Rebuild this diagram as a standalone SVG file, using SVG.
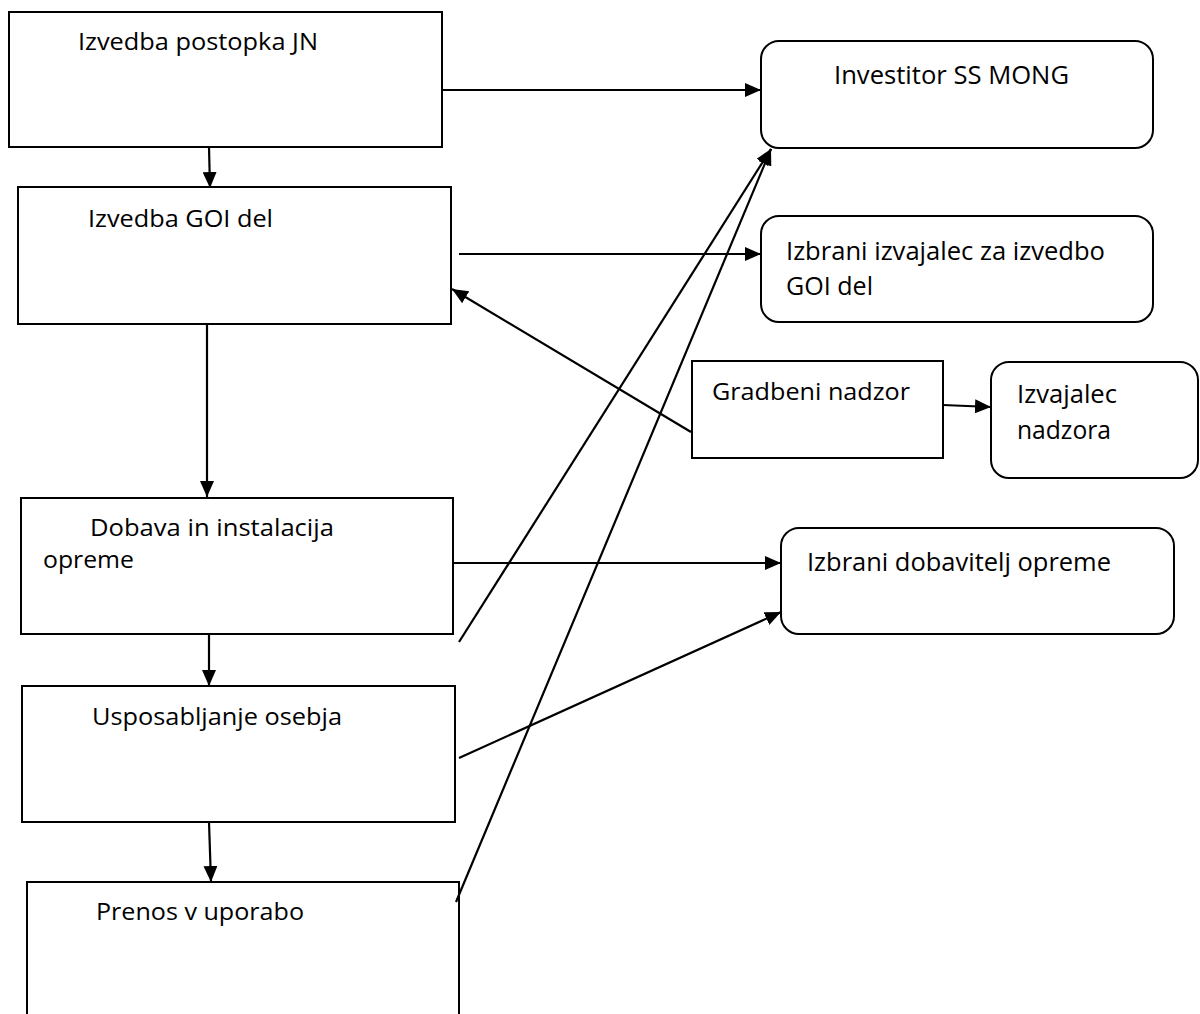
<svg xmlns="http://www.w3.org/2000/svg" width="1200" height="1014" viewBox="0 0 1200 1014">
<defs>
<marker id="ah" markerUnits="userSpaceOnUse" markerWidth="17" markerHeight="14" refX="16" refY="7" orient="auto">
<path d="M0,0 L16,7 L0,14 z" fill="#000"/>
</marker>
<style>
.box{fill:#fff;stroke:#000;stroke-width:2}
.lt{font-family:"Open Sans","DejaVu Sans",sans-serif;font-size:23.5px;fill:#000}
.rt{font-family:"Open Sans","DejaVu Sans",sans-serif;font-size:26px;fill:#000}
.cn line{stroke:#000;stroke-width:2.2;marker-end:url(#ah)}
</style>
</defs>
<rect width="1200" height="1014" fill="#fff"/>
<g id="n1"><rect class="box" x="9" y="12" width="433" height="135"/><text class="lt" x="78" y="50" textLength="240" lengthAdjust="spacingAndGlyphs">Izvedba postopka JN</text></g>
<g id="n2"><rect class="box" x="18" y="187" width="433" height="137"/><text class="lt" x="88" y="227" textLength="185" lengthAdjust="spacingAndGlyphs">Izvedba GOI del</text></g>
<g id="n3"><rect class="box" x="21" y="498" width="432" height="136"/><text class="lt" x="90" y="536" textLength="244" lengthAdjust="spacingAndGlyphs">Dobava in instalacija</text><text class="lt" x="43" y="568" textLength="91" lengthAdjust="spacingAndGlyphs">opreme</text></g>
<g id="n4"><rect class="box" x="22" y="686" width="433" height="136"/><text class="lt" x="92" y="725" textLength="250" lengthAdjust="spacingAndGlyphs">Usposabljanje osebja</text></g>
<g id="n5"><rect class="box" x="27" y="882" width="432" height="150"/><text class="lt" x="96" y="920" textLength="208" lengthAdjust="spacingAndGlyphs">Prenos v uporabo</text></g>
<g id="n6"><rect class="box" x="761" y="41" width="392" height="107" rx="18"/><text class="rt" x="834" y="84" textLength="235" lengthAdjust="spacingAndGlyphs">Investitor SS MONG</text></g>
<g id="n7"><rect class="box" x="761" y="216" width="392" height="106" rx="18"/><text class="rt" x="786" y="260" textLength="319" lengthAdjust="spacingAndGlyphs">Izbrani izvajalec za izvedbo</text><text class="rt" x="786" y="295" textLength="87" lengthAdjust="spacingAndGlyphs">GOI del</text></g>
<g id="n8"><rect class="box" x="692" y="361" width="251" height="97"/><text class="lt" x="712" y="400" textLength="198" lengthAdjust="spacingAndGlyphs">Gradbeni nadzor</text></g>
<g id="n9"><rect class="box" x="991" y="362" width="207" height="116" rx="18"/><text class="rt" x="1017" y="403" textLength="100" lengthAdjust="spacingAndGlyphs">Izvajalec</text><text class="rt" x="1017" y="439" textLength="94" lengthAdjust="spacingAndGlyphs">nadzora</text></g>
<g id="n10"><rect class="box" x="781" y="528" width="393" height="106" rx="18"/><text class="rt" x="807" y="571" textLength="304" lengthAdjust="spacingAndGlyphs">Izbrani dobavitelj opreme</text></g>
<g id="connectors" class="cn">
<line x1="209" y1="147" x2="210" y2="188"/>
<line x1="442" y1="90" x2="761" y2="90"/>
<line x1="207" y1="323" x2="207" y2="497"/>
<line x1="459" y1="254" x2="761" y2="254"/>
<line x1="691" y1="432" x2="452" y2="289"/>
<line x1="943" y1="405" x2="991" y2="407"/>
<line x1="453" y1="563" x2="781" y2="563"/>
<line x1="459" y1="642" x2="771" y2="149"/>
<line x1="209" y1="634" x2="209" y2="686"/>
<line x1="459" y1="758" x2="781" y2="612"/>
<line x1="209" y1="822" x2="211" y2="882"/>
<line x1="456" y1="902" x2="771" y2="149"/>
</g>
</svg>
